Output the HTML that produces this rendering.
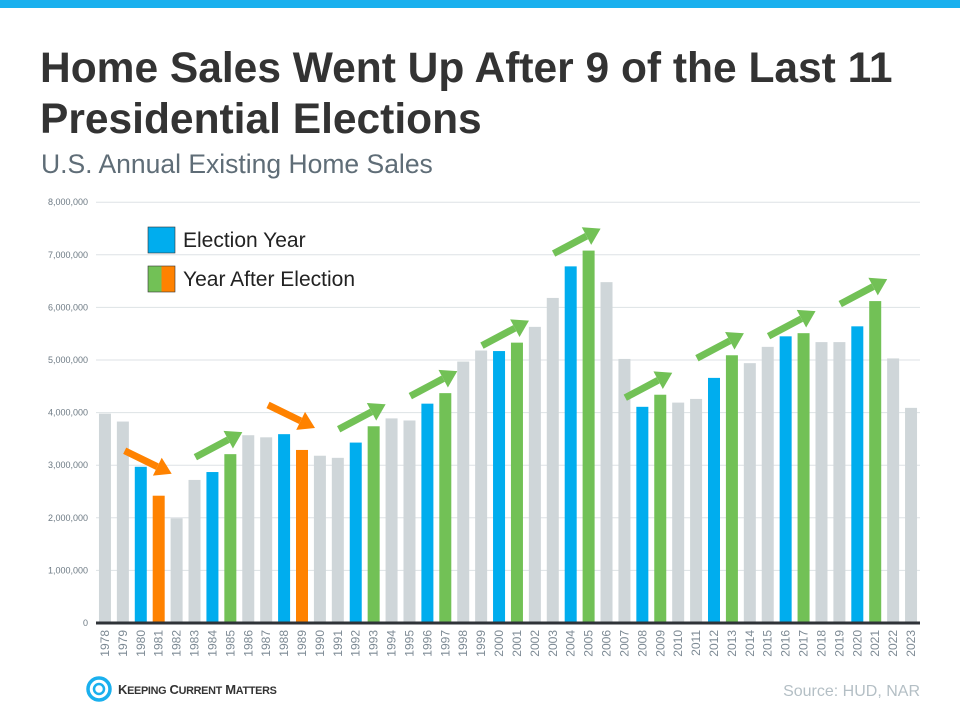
<!DOCTYPE html>
<html><head><meta charset="utf-8"><style>
body{margin:0;width:960px;height:720px;background:#fff;overflow:hidden;font-family:"Liberation Sans",sans-serif;position:relative}
#topbar{position:absolute;left:0;top:0;width:960px;height:8px;background:#1ab0ee}
h1{position:absolute;left:40px;top:43px;margin:0;font-size:42.5px;line-height:51px;font-weight:bold;color:#333}
#sub{position:absolute;left:41px;top:149px;font-size:26.5px;color:#5f6d77}
#src{position:absolute;right:40px;top:683px;font-size:16px;color:#b4bfc5}
#logo{position:absolute;left:86px;top:676px;display:flex;align-items:center;gap:6px;font-size:13px;font-weight:bold;color:#333;letter-spacing:-0.3px}
svg{position:absolute;left:0;top:0}
</style></head><body>
<div id="topbar"></div>
<h1>Home Sales Went Up After 9 of the Last 11<br>Presidential Elections</h1>
<div id="sub">U.S. Annual Existing Home Sales</div>
<svg id="chart" width="960" height="720"></svg>
<div id="logo"><svg style="position:static" width="26" height="26" viewBox="0 0 26 26"><circle cx="13" cy="13" r="11" fill="none" stroke="#1ab0ee" stroke-width="3.5"/><circle cx="13" cy="13" r="5" fill="none" stroke="#1ab0ee" stroke-width="2.5"/></svg><span>K<small>EEPING</small> C<small>URRENT</small> M<small>ATTERS</small></span></div>
<div id="src">Source: HUD, NAR</div>
<script>
const years=[1978,1979,1980,1981,1982,1983,1984,1985,1986,1987,1988,1989,1990,1991,1992,1993,1994,1995,1996,1997,1998,1999,2000,2001,2002,2003,2004,2005,2006,2007,2008,2009,2010,2011,2012,2013,2014,2015,2016,2017,2018,2019,2020,2021,2022,2023];
const sales=[3.98,3.83,2.97,2.42,1.99,2.72,2.87,3.21,3.57,3.53,3.59,3.29,3.18,3.14,3.43,3.74,3.89,3.85,4.17,4.37,4.97,5.18,5.17,5.33,5.63,6.18,6.78,7.08,6.48,5.02,4.11,4.34,4.19,4.26,4.66,5.09,4.94,5.25,5.45,5.51,5.34,5.34,5.64,6.12,5.03,4.09];
const electionYears=[1980,1984,1988,1992,1996,2000,2004,2008,2012,2016,2020];
const downYears=[1981,1989];
const yTicks=[0,1,2,3,4,5,6,7,8];
const NS="http://www.w3.org/2000/svg";
const svg=document.getElementById('chart');
const L=96,R=920,Y0=623,PPM=52.6;
const slot=(R-L)/years.length;
const x=i=>L+(i+0.5)*slot;
const y=v=>Y0-v*PPM;
function mk(t,a){const e=document.createElementNS(NS,t);for(const k in a)e.setAttribute(k,a[k]);svg.appendChild(e);return e;}
yTicks.forEach(t=>{
  const g=mk('line',{x1:L,x2:R,y1:y(t),y2:y(t),stroke:'#dde2e5','stroke-width':1});
  
  
  const tx=mk('text',{x:88,y:y(t)+3,'text-anchor':'end','font-size':9,fill:'#6d7a84'});
  tx.textContent=(t*1000000).toLocaleString('en-US');
  
  
});
years.forEach((yr,i)=>{
  let c='#cfd6d9';
  if(electionYears.includes(yr))c='#00adee';
  else if(downYears.includes(yr))c='#ff8200';
  else if(electionYears.includes(yr-1))c='#72c156';
  const b=mk('rect',{x:x(i)-6,y:y(sales[i]),width:12,height:sales[i]*PPM,fill:c});
  
  
  const tx=mk('text',{transform:`translate(${x(i)+4},630) rotate(-90)`,'text-anchor':'end','font-size':12,fill:'#7d8a94'});
  tx.textContent=yr;
  
  
});
const ax=mk('line',{x1:L,x2:R,y1:Y0,y2:Y0,stroke:'#2f3338','stroke-width':3});


function arrow(tx,ty,fx,fy,col){
  const dx=tx-fx,dy=ty-fy,len=Math.hypot(dx,dy),ux=dx/len,uy=dy/len,px=-uy,py=ux;
  const bx=tx-ux*16,by=ty-uy*16;
  const g=document.createElementNS(NS,'g');svg.appendChild(g);
  
  
  const l=document.createElementNS(NS,'line');
  [['x1',fx],['y1',fy],['x2',bx],['y2',by],['stroke',col],['stroke-width',7]].forEach(a=>l.setAttribute(a[0],a[1]));g.appendChild(l);
  const p=document.createElementNS(NS,'polygon');
  p.setAttribute('points',`${tx},${ty} ${bx+px*10},${by+py*10} ${bx-px*10},${by-py*10}`);p.setAttribute('fill',col);g.appendChild(p);
}
years.forEach((yr,i)=>{
  if(!electionYears.includes(yr-1))return;
  const t=y(sales[i]);
  if(downYears.includes(yr)) arrow(x(i)+13,t-22,x(i)+13-47,t-45,'#ff8200');
  else arrow(x(i)+12,t-22,x(i)+12-47,t+3,'#72c156');
});
const lg=[[227,'#00adee','Election Year'],[266,null,'Year After Election']];
lg.forEach(([ly,c,t])=>{
  if(c){const r=mk('rect',{x:148,y:ly,width:27,height:26,fill:c,stroke:'#333','stroke-width':0.6});}
  else{const r1=mk('rect',{x:148,y:ly,width:13.5,height:26,fill:'#72c156'});
  const r2=mk('rect',{x:161.5,y:ly,width:13.5,height:26,fill:'#ff8200'});
  const r3=mk('rect',{x:148,y:ly,width:27,height:26,fill:'none',stroke:'#333','stroke-width':0.6});}
  const tx=mk('text',{x:183,y:ly+20,'font-size':21,fill:'#222'});tx.textContent=t;
  
  
});
</script>
</body></html>
